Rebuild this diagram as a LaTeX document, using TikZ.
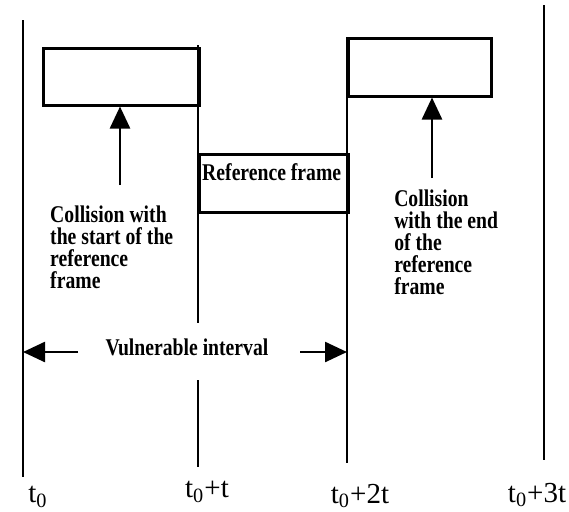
\documentclass[tikz,border=0pt]{standalone}
\usepackage{fontspec}
\setmainfont{Liberation Serif}
\newfontfamily\notefont[FakeStretch=0.82,UprightFont={* Bold}]{Liberation Serif}
\usetikzlibrary{arrows.meta}

\tikzset{
  frm/.style={draw, inner sep=0pt, anchor=north west},
  note/.style={font=\notefont\fontsize{12}{11}\selectfont, align=left, inner sep=0pt},
  tlab/.style={font=\fontsize{14.5}{16}\selectfont, inner sep=0pt},
}

\begin{document}
\begin{tikzpicture}[x=0.5pt, y=-0.5pt, line width=1.25pt, >={Triangle[length=11pt,width=10pt]}]
    \useasboundingbox (0,0) rectangle (569,511);
    % time lines
    \coordinate (a0) at (23,20);   \coordinate (b0) at (23,477);
    \coordinate (a1) at (198,45);  \coordinate (m1) at (198,323);
    \coordinate (n1) at (198,380); \coordinate (b1) at (198,467);
    \coordinate (a2) at (347,37);  \coordinate (b2) at (347,463);
    \coordinate (a3) at (544,5);   \coordinate (b3) at (544,460);
    \draw (a0) -- (b0);
    \draw (a1) -- (m1) (n1) -- (b1);
    \draw (a2) -- (b2);
    \draw (a3) -- (b3);
    % frames
    \node[frm, minimum width=78pt, minimum height=28.5pt] (fs) at (42,47) {};
    \node[frm, minimum width=74.5pt, minimum height=29pt] (rf) at (198,153) {};
    \node[frm, minimum width=71.5pt, minimum height=29pt] (fe) at (347,37) {};
    \node[note, anchor=north west] (rt) at (201,162) {Reference frame};
    % collisions
    \node[note, anchor=north west] (cs) at (49,205) {Collision with\\the start of the\\reference\\frame};
    \node[note, anchor=north west] (ce) at (393,189) {Collision\\with the end\\of the\\reference\\frame};
    \coordinate (us) at (120,185);
    \coordinate (ue) at (432,178);
    \draw[->] (us) -- (us |- fs.south);
    \draw[->] (ue) -- (ue |- fe.south);
    % vulnerable interval
    \node[note] (vi) at (187,347) {Vulnerable interval};
    \coordinate (vl) at (78,352);
    \coordinate (vr) at (300,352);
    \draw[->] (vl) -- (vl -| a0);
    \draw[->] (vr) -- (vr -| a2);
    % times
    \node[tlab] (t0) at (38,497) {t\textsubscript{0}};
    \node[tlab] (t1) at (207,492) {t\textsubscript{0}+t};
    \node[tlab] (t2) at (360,496) {t\textsubscript{0}+2t};
    \node[tlab] (t3) at (537,495) {t\textsubscript{0}+3t};
\end{tikzpicture}
\end{document}
